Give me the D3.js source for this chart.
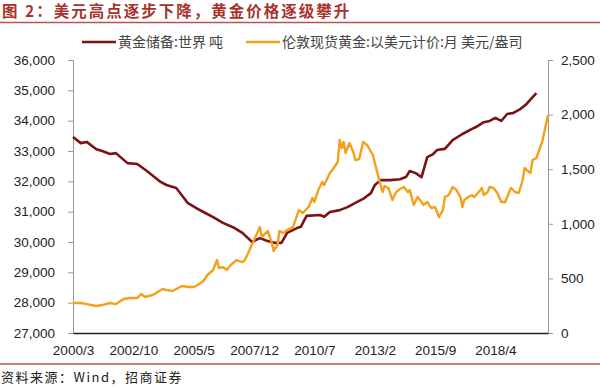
<!DOCTYPE html>
<html>
<head>
<meta charset="utf-8">
<script src="https://cdn.jsdelivr.net/npm/d3@7"></script>
<style>
  body { margin: 0; background: #fff; }
  svg { display: block; }
</style>
</head>
<body>
<script>
'use strict';

// 黄金储备:世界 (吨)
const reserveMonths = ["2000-03","2000-07","2000-10","2001-03","2001-06","2001-10","2002-01","2002-07","2002-12","2003-05",
	"2003-12","2004-03","2004-08","2005-02","2005-07","2005-10","2006-03","2006-08","2007-02","2007-06",
	"2007-11","2008-03","2008-07","2008-11","2009-02","2009-05","2009-10","2009-12","2010-03","2010-10",
	"2010-12","2011-03","2011-08","2011-12","2012-05","2012-08","2012-12","2013-02","2013-05","2013-10",
	"2014-03","2014-06","2014-08","2014-11","2015-02","2015-05","2015-08","2015-10","2016-02","2016-06",
	"2016-11","2017-04","2017-06","2017-10","2018-01","2018-04","2018-07","2018-10","2019-01","2019-05",
	"2019-08","2020-01"];
const reserveValues = [33460,33260,33300,33060,33000,32900,32930,32600,32570,32340,
	31980,31880,31780,31280,31090,30990,30820,30630,30460,30300,
	30000,30130,30030,29970,29970,30300,30460,30500,30860,30890,
	30830,30990,31050,31150,31320,31420,31610,31880,32040,32040,
	32070,32140,32340,32270,32140,32800,32900,33030,33070,33360,
	33560,33730,33790,33950,33990,34090,33990,34220,34250,34390,
	34550,34910];

// 伦敦现货黄金:以美元计价:月 (美元/盎司)
const priceMonths = ["2000-03","2000-07","2000-10","2001-03","2001-06","2001-10","2002-01","2002-05","2002-08","2002-12",
	"2003-02","2003-04","2003-08","2004-01","2004-03","2004-06","2004-11","2005-02","2005-05","2005-07",
	"2005-10","2005-12","2006-03","2006-05","2006-06","2006-08","2006-10","2006-12","2007-03","2007-06",
	"2007-07","2007-09","2007-11","2007-12","2008-03","2008-04","2008-07","2008-09","2008-10","2008-12",
	"2009-01","2009-03","2009-05","2009-08","2009-11","2010-01","2010-04","2010-06","2010-07","2010-09",
	"2010-11","2010-12","2011-03","2011-05","2011-07","2011-08","2011-09","2011-10","2011-11","2011-12",
	"2012-01","2012-03","2012-04","2012-06","2012-08","2012-10","2013-01","2013-02","2013-04","2013-06",
	"2013-07","2013-09","2013-11","2014-01","2014-03","2014-05","2014-07","2014-08","2014-10","2014-12",
	"2015-02","2015-03","2015-05","2015-07","2015-09","2015-11","2016-01","2016-02","2016-04","2016-06",
	"2016-08","2016-10","2016-11","2016-12","2017-02","2017-04","2017-05","2017-07","2017-09","2017-10",
	"2017-12","2018-01","2018-03","2018-05","2018-07","2018-09","2018-10","2018-12","2019-02","2019-04",
	"2019-06","2019-07","2019-08","2019-10","2019-11","2020-01","2020-03","2020-04","2020-07"];
const priceValues = [275,275,265,247,256,275,265,311,320,320,
	357,330,348,403,394,385,430,421,421,440,
	476,531,577,668,595,604,577,623,668,650,
	659,732,815,851,970,879,934,833,751,806,
	934,915,943,970,1126,1099,1154,1236,1200,1309,
	1383,1355,1465,1511,1566,1767,1694,1749,1648,1694,
	1740,1658,1584,1593,1749,1722,1630,1557,1419,1291,
	1346,1328,1218,1291,1319,1337,1291,1309,1172,1245,
	1200,1172,1200,1145,1154,1062,1126,1245,1264,1337,
	1309,1245,1154,1218,1245,1264,1245,1282,1328,1264,
	1291,1337,1328,1282,1200,1200,1245,1328,1291,1282,
	1401,1511,1493,1465,1584,1602,1703,1749,1996];

const xTickMonths = ["2000-03","2002-10","2005-05","2007-12","2010-07","2013-02","2015-09","2018-04"];
const leftTicks = [27000,28000,29000,30000,31000,32000,33000,34000,35000,36000];
const rightTicks = [0,500,1000,1500,2000,2500];

const params = {
	left: 73,
	right: 548,
	top: 60,
	bottom: 333,
	width: 600,
	height: 388
};

const parseMonth = d3.timeParse("%Y-%m");
const reserves = reserveMonths.map((m, i) => ({ date: parseMonth(m), value: reserveValues[i] }));
const prices = priceMonths.map((m, i) => ({ date: parseMonth(m), value: priceValues[i] }));

const svg = d3.select("body").append("svg")
	.attr("width", params.width)
	.attr("height", params.height);

const cjk = "'Noto Sans CJK SC', sans-serif";
const latin = "'Liberation Sans', Arial, sans-serif";

// title + rules
svg.append("text")
	.attr("x", 2).attr("y", 17)
	.attr("font-family", cjk)
	.attr("font-size", 15.5)
	.attr("letter-spacing", 2)
	.attr("font-weight", "bold")
	.attr("fill", "#a8322c")
	.text("图 2：美元高点逐步下降，黄金价格逐级攀升");
svg.append("line")
	.attr("x1", 0).attr("x2", params.width)
	.attr("y1", 22.5).attr("y2", 22.5)
	.attr("stroke", "#c0504d").attr("stroke-width", 1.5);
svg.append("line")
	.attr("x1", 0).attr("x2", params.width)
	.attr("y1", 364).attr("y2", 364)
	.attr("stroke", "#c0504d").attr("stroke-width", 1.5);
svg.append("text")
	.attr("x", 1).attr("y", 382)
	.attr("font-family", cjk)
	.attr("font-size", 13)
	.attr("letter-spacing", 1.5)
	.attr("fill", "#222")
	.text("资料来源：Wind，招商证券");

// scales
const xScale = d3.scaleTime()
	.domain([parseMonth("2000-03"), parseMonth("2020-07")])
	.range([params.left, params.right]);
const yLeft = d3.scaleLinear()
	.domain([27000, 36000])
	.range([params.bottom, params.top]);
const yRight = d3.scaleLinear()
	.domain([0, 2500])
	.range([params.bottom, params.top]);

// axes
const styleAxis = (g) => {
	g.select(".domain").attr("stroke", "#999");
	g.selectAll(".tick line").attr("stroke", "#999");
	g.selectAll(".tick text")
		.attr("font-family", latin)
		.attr("font-size", 13.5)
		.attr("fill", "#222");
};

svg.append("g")
	.attr("transform", `translate(${params.left},0)`)
	.call(d3.axisLeft(yLeft).tickValues(leftTicks).tickFormat(d3.format(",")).tickSize(5).tickSizeOuter(5).tickPadding(13))
	.call(styleAxis);

svg.append("g")
	.attr("transform", `translate(${params.right},0)`)
	.call(d3.axisRight(yRight).tickValues(rightTicks).tickFormat(d3.format(",")).tickSize(5).tickSizeOuter(5).tickPadding(8))
	.call(styleAxis);

const xAxis = svg.append("g")
	.attr("transform", `translate(0,${params.bottom})`)
	.call(d3.axisBottom(xScale)
		.tickValues(xTickMonths.map(parseMonth))
		.tickFormat(d3.timeFormat("%Y/%-m"))
		.tickSize(0).tickPadding(12))
	.call(styleAxis);
xAxis.select(".domain").attr("stroke", "#222").attr("stroke-width", 1.5);

// lines
const reserveLine = d3.line()
	.x(d => xScale(d.date))
	.y(d => yLeft(d.value));
const priceLine = d3.line()
	.x(d => xScale(d.date))
	.y(d => yRight(d.value));

svg.append("path")
	.datum(reserves)
	.attr("fill", "none")
	.attr("stroke", "#7a1315")
	.attr("stroke-width", 2.6)
	.attr("stroke-linejoin", "round")
	.attr("d", reserveLine);

svg.append("path")
	.datum(prices)
	.attr("fill", "none")
	.attr("stroke", "#f5a01a")
	.attr("stroke-width", 2.4)
	.attr("stroke-linejoin", "round")
	.attr("d", priceLine);

// legend
const legendItems = [
	{ label: "黄金储备:世界 吨", color: "#7a1315", x: 82 },
	{ label: "伦敦现货黄金:以美元计价:月 美元/盎司", color: "#f5a01a", x: 246 }
];
const legend = svg.append("g");
legendItems.forEach(item => {
	legend.append("line")
		.attr("x1", item.x).attr("x2", item.x + 34)
		.attr("y1", 42).attr("y2", 42)
		.attr("stroke", item.color).attr("stroke-width", 2.6);
	legend.append("text")
		.attr("x", item.x + 36).attr("y", 47)
		.attr("font-family", cjk)
		.attr("font-size", 14)
		.attr("fill", "#444")
		.text(item.label);
});
</script>
</body>
</html>
